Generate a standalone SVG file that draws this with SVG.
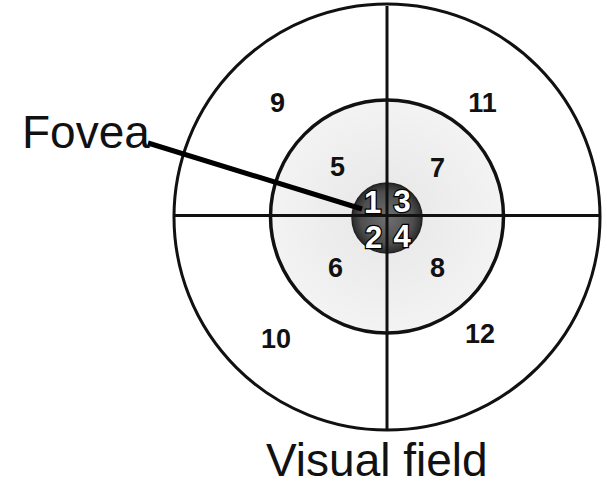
<svg xmlns="http://www.w3.org/2000/svg" width="607" height="491" viewBox="0 0 607 491">
  <style>
    .ring { fill: none; stroke: #111; stroke-width: 3; }
    .axis { stroke: #111; stroke-width: 3; }
    .num { font-family: "Liberation Sans", Arial, sans-serif; font-size: 27px; font-weight: bold; fill: #111; text-anchor: middle; }
    .fnum { font-family: "Liberation Sans", Arial, sans-serif; font-size: 31px; font-weight: bold; fill: #fff; stroke: #000; stroke-width: 2.5; paint-order: stroke; text-anchor: middle; }
    .label { font-family: "Liberation Sans", Arial, sans-serif; font-size: 46px; fill: #111; }
  </style>
  <defs>
    <radialGradient id="foveaFill" cx="0.5" cy="0.5" r="0.5">
      <stop offset="0" stop-color="#707070"/>
      <stop offset="0.75" stop-color="#4e4e4e"/>
      <stop offset="1" stop-color="#2a2a2a"/>
    </radialGradient>
    <radialGradient id="paraFill" cx="0.5" cy="0.5" r="0.5">
      <stop offset="0" stop-color="#e6e6e6"/>
      <stop offset="1" stop-color="#f3f3f3"/>
    </radialGradient>
  </defs>
  <rect width="607" height="491" fill="#fff"/>

  <g id="outer-ring">
    <circle cx="387" cy="217" r="213" class="ring"/>
  </g>
  <g id="inner-ring">
    <circle cx="387" cy="216.5" r="116.5" fill="url(#paraFill)" stroke="#111" stroke-width="3.5"/>
  </g>
  <g id="fovea-disc">
    <circle cx="387" cy="218" r="35" fill="url(#foveaFill)" stroke="#222" stroke-width="1.5"/>
  </g>
  <g id="axes">
    <line x1="387" y1="6" x2="387" y2="430" class="axis"/>
    <line x1="175" y1="215.5" x2="599" y2="215.5" class="axis"/>
  </g>

  <g id="connectors">
    <line x1="148" y1="143" x2="362" y2="209" stroke="#000" stroke-width="5"/>
  </g>

  <g id="sector-9"><text x="277.5" y="112" class="num">9</text></g>
  <g id="sector-11"><text x="482.5" y="112" class="num">11</text></g>
  <g id="sector-5"><text x="337.5" y="176" class="num">5</text></g>
  <g id="sector-7"><text x="437.5" y="177" class="num">7</text></g>
  <g id="sector-6"><text x="335.5" y="277" class="num">6</text></g>
  <g id="sector-8"><text x="437.5" y="277" class="num">8</text></g>
  <g id="sector-10"><text x="276" y="348" class="num">10</text></g>
  <g id="sector-12"><text x="480" y="343" class="num">12</text></g>

  <g id="sector-1"><text x="372.5" y="213" class="fnum">1</text></g>
  <g id="sector-3"><text x="402" y="212" class="fnum">3</text></g>
  <g id="sector-2"><text x="373.5" y="248" class="fnum">2</text></g>
  <g id="sector-4"><text x="402" y="247" class="fnum">4</text></g>

  <g id="label-fovea"><text x="22" y="148" class="label">Fovea</text></g>
  <g id="label-visual-field"><text x="266" y="476" class="label">Visual field</text></g>
</svg>
